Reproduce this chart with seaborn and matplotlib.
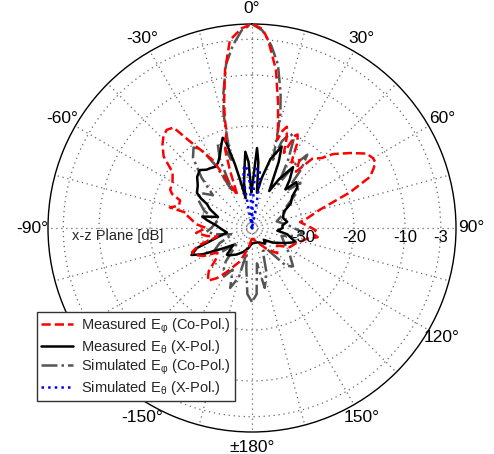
import numpy as np
import matplotlib
matplotlib.use("Agg")
import matplotlib.pyplot as plt
import matplotlib.transforms as mtransforms
import seaborn as sns

# Radiation pattern in the x-z plane: angle (deg, clockwise from broadside) and level (dB)
meas_co_deg = [-180, -170, -160, -150, -145, -140, -135, -130, -125, -120, -115, -112, -108,
               -104, -100, -95, -90, -86, -82, -79, -77, -76, -73, -69, -67, -65, -60, -55,
               -51, -47, -44, -41, -38, -36, -33, -30, -27, -24, -21, -19, -17, -15, -14,
               -12.6, -9.7, -6.7, -3, 0, 3, 4.9, 8.6, 11.8, 14.9, 16, 17.5, 19, 21, 23, 25,
               26, 28, 31, 35, 38, 41, 45, 47.6, 52.6, 57, 60, 62, 64, 66.6, 70, 75, 80, 83,
               88, 92, 95, 98, 101, 105, 110, 117, 125, 135, 145, 160, 180]
meas_co_db = [-38, -36, -33, -30, -28, -26.5, -28, -31, -31.6, -29, -27.5, -27.3, -29,
              -33, -31, -29, -31, -29, -28, -27, -26.9, -23.4, -25, -24.9, -23, -22.3, -22, -21,
              -17.7, -16, -15, -14.5, -15, -18.6, -22, -24.7, -30, -33, -28, -24, -22, -20.8, -18,
              -14.9, -8.6, -2.9, -0.8, 0, -0.9, -3, -8.6, -15, -20.2, -22, -20, -19, -21, -24, -20,
              -19.6, -21, -25, -23.7, -26, -22, -20.6, -18.5, -15.8, -13.2, -12.6, -12.6, -13.5,
              -14.8, -19.6, -26.3, -29, -30.5, -29, -27.5, -28, -27, -29, -30, -31, -31.7, -34,
              -33, -35, -37, -38]

meas_x_deg = [-180, -170, -160, -150, -140, -137, -132, -125, -118, -114, -110, -105, -100,
              -92, -86, -80, -77, -72, -66, -62, -60, -57.5, -52, -47, -42, -38, -35, -31,
              -27.6, -24, -21, -18, -17, -15, -14, -12, -10, -7, -5, -3, -1, 1, 3.6, 5.5, 8,
              11, 15, 20, 22, 25, 29, 34, 38, 41, 44, 48, 52, 57.6, 63, 72, 80, 85, 90, 96,
              100, 108, 115, 125, 135, 140, 160, 180]
meas_x_db = [-37, -36, -35, -34, -33, -32.8, -35, -33, -29, -27, -28.5, -33, -35,
             -34, -33, -31, -30, -33, -31, -30, -28.5, -27.2, -26.5, -25.3, -24.7, -25.5, -25.7,
             -26, -25.6, -24.5, -23, -21.4, -22, -27, -30, -34, -31, -28, -25, -27, -33, -31,
             -24.3, -27, -33, -30, -26, -23, -26, -32, -29, -25.6, -28, -30, -27.5, -28, -30,
             -31, -33, -33.6, -33, -34, -34, -35, -33, -31, -33, -35, -36.7, -36, -37, -37]

sim_co_deg = [-180, -176, -172, -168, -165, -160, -155, -150, -146, -142, -135, -128, -122,
              -115, -108, -100, -95, -90, -80, -70, -62, -56, -50, -45, -40, -36, -33, -30,
              -28, -25, -22, -19, -17, -15.5, -14, -12, -9, -6, -3, 0, 3, 6, 9, 12, 14, 15.5,
              17, 19, 22, 25, 28, 31, 34, 37, 40, 43, 47, 52, 58, 65, 75, 85, 95, 100, 105,
              115, 125, 133, 138, 145, 155, 162, 168, 172, 176, 180]
sim_co_db = [-25.5, -27, -32, -35, -30, -27.5, -31, -29, -30, -31.6, -36, -32, -31,
             -33, -36, -33, -31, -32, -33, -30, -28, -27.7, -30, -26, -22, -20.5, -21.5, -26,
             -32, -25, -22, -23, -26, -22, -17, -13, -7.5, -4, -1.2, 0, -1.2, -4, -7.5, -13, -17,
             -22, -26, -22, -20, -20.5, -25, -30, -25, -22, -25, -30, -27, -29, -32, -33, -35,
             -33, -30, -31, -34, -33, -31, -29, -30, -35, -35, -30.8, -28, -33, -27, -25.5]

sim_x_deg = [-180, -12, -10, -8.5, -6.5, -4.5, -3, -1.5, 0, 1.5, 3, 4.5, 6, 8, 9.5, 11,
             12.5, 180]
sim_x_db = [-40, -40, -31, -28.5, -27.6, -28.5, -31, -36, -40, -36, -30, -28.4, -28.2,
            -29, -31, -36, -40, -40]

legend_labels = [r"Measured E$_{\mathregular{φ}}$ (Co-Pol.)",
                 r"Measured E$_{\mathregular{θ}}$ (X-Pol.)",
                 r"Simulated E$_{\mathregular{φ}}$ (Co-Pol.)",
                 r"Simulated E$_{\mathregular{θ}}$ (X-Pol.)"]

theta_ticks = list(range(0, 360, 15))
theta_label_map = {0: "0°", 30: "30°", 60: "60°", 90: "90°", 120: "120°", 150: "150°",
                   180: "±180°", 210: "-150°", 240: "-120°", 270: "-90°", 300: "-60°",
                   330: "-30°"}
ring_levels = [-30, -20, -10, -3]
ring_labels = ["-30", "-20", "-10", "-3"]
r_min, r_max = -40, 0

sns.set_theme(style="white")
plt.rcParams["font.family"] = ["Liberation Sans", "DejaVu Sans"]
plt.rcParams["mathtext.fontset"] = "dejavusans"

W, H, DPI = 494, 454, 100
fig = plt.figure(figsize=(W / DPI, H / DPI), dpi=DPI)
cx, cy, R = 252, 228, 204
ax = fig.add_axes([(cx - R) / W, (H - cy - R) / H, 2 * R / W, 2 * R / H], projection="polar")
ax.set_theta_zero_location("N")
ax.set_theta_direction(-1)

def trace(deg, db, **kw):
    th = np.deg2rad(np.asarray(deg, dtype=float))
    r = np.clip(np.asarray(db, dtype=float), r_min, r_max)
    sns.lineplot(x=th, y=r, ax=ax, sort=False, estimator=None, **kw)

trace(sim_co_deg, sim_co_db, color="#555555", linestyle="-.", linewidth=1.8,
      label=legend_labels[2], zorder=3)
trace(meas_x_deg, meas_x_db, color="black", linestyle="-", linewidth=1.8,
      label=legend_labels[1], zorder=4)
trace(sim_x_deg, sim_x_db, color="#0000ff", linestyle=":", linewidth=1.8,
      label=legend_labels[3], zorder=5)
trace(meas_co_deg, meas_co_db, color="#ff0000", linestyle="--", linewidth=1.8,
      label=legend_labels[0], zorder=6)

ax.set_xlabel("")
ax.set_ylabel("")
ax.set_xlim(0, 2 * np.pi)
ax.set_ylim(r_min, r_max)
ax.set_yticks(ring_levels)
ax.set_yticklabels([])
ax.set_xticks(np.deg2rad(theta_ticks))
ax.set_xticklabels([theta_label_map.get(t, "") for t in theta_ticks], fontsize=12.5)
ax.tick_params(axis="x", pad=4, direction="in", length=5, width=0.8, colors="black")
ax.grid(True, color="#666666", linestyle=(0, (1, 3)), linewidth=0.9)
ax.spines["polar"].set_color("black")
ax.spines["polar"].set_linewidth(1.0)
ax.set_facecolor("white")

# radial level labels just below the 90° spoke
lab_tr = mtransforms.offset_copy(ax.transData, fig=fig, x=0, y=-9, units="dots")
for lvl, txt in zip(ring_levels, ring_labels):
    ax.text(np.deg2rad(90), lvl, txt, transform=lab_tr, ha="center", va="center",
            fontsize=12, color="black", zorder=7)

fig.text(72 / W, 1 - 236 / H, "x-z Plane [dB]", ha="left", va="center", fontsize=10.5)

handles, labels = ax.get_legend_handles_labels()
order = [labels.index(l) for l in legend_labels]
leg = ax.legend([handles[i] for i in order], [labels[i] for i in order],
                loc="upper left", bbox_to_anchor=(37 / W, 1 - 312 / H),
                bbox_transform=fig.transFigure, borderaxespad=0, fontsize=10.5,
                frameon=True, fancybox=False, framealpha=1, edgecolor="#333333",
                handlelength=2.2, handletextpad=0.5, labelspacing=0.12, borderpad=0.3)
leg.get_frame().set_linewidth(1.0)
leg.set_zorder(10)

fig.savefig("out.png", dpi=DPI, facecolor="white")
